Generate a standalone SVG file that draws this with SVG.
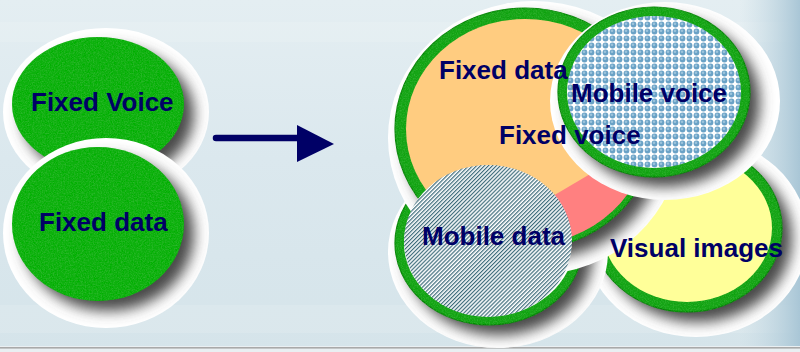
<svg xmlns="http://www.w3.org/2000/svg" width="800" height="352" viewBox="0 0 800 352">
<defs>
<style>
.halo{fill:#ffffff}
.shade{fill:#4a4a4a;filter:url(#soft)}
.green{fill:#10b010;filter:url(#grain)}
.ring{fill:#16a316;stroke:#0b850b;stroke-width:1.2;filter:url(#grain)}
.lbl{font-family:"Liberation Sans",Arial,Helvetica,sans-serif;font-weight:bold;font-size:26px;fill:#000066}
</style>
<linearGradient id="bg" x1="0" y1="0" x2="0" y2="1">
<stop offset="0" stop-color="#e4eef2"/>
<stop offset="0.45" stop-color="#dbe8ee"/>
<stop offset="1" stop-color="#d5e4ea"/>
</linearGradient>
<linearGradient id="edge" x1="0" y1="0" x2="1" y2="0">
<stop offset="0" stop-color="#c4d9e3" stop-opacity="0"/>
<stop offset="1" stop-color="#a9c6d6"/>
</linearGradient>
<filter id="soft" x="-20%" y="-20%" width="140%" height="140%">
<feGaussianBlur stdDeviation="7"/>
</filter>
<filter id="grain" x="-5%" y="-5%" width="110%" height="110%">
<feTurbulence type="fractalNoise" baseFrequency="0.75" numOctaves="2" seed="7" result="noise"/>
<feColorMatrix in="noise" type="matrix" values="0 0 0 0 0.05  0 0 0 0 0.55  0 0 0 0 0.05  0 0 0 1.0 -0.4" result="spk"/>
<feComposite in="spk" in2="SourceGraphic" operator="in" result="spk2"/>
<feMerge><feMergeNode in="SourceGraphic"/><feMergeNode in="spk2"/></feMerge>
</filter>
<pattern id="dots" width="7" height="7" patternUnits="userSpaceOnUse">
<rect width="7" height="7" fill="#ffffff"/>
<circle cx="3.5" cy="3.5" r="2.9" fill="#6aa2c6"/>
<circle cx="3" cy="2.7" r="1.3" fill="#9cc4dc"/>
</pattern>
<pattern id="stripes" width="2.8" height="2.8" patternUnits="userSpaceOnUse" patternTransform="rotate(45)">
<rect width="2.8" height="2.8" fill="#ffffff"/>
<rect width="1.2" height="2.8" fill="#3d6b7a"/>
</pattern>
<clipPath id="c-fv"><ellipse cx="106" cy="112" rx="103" ry="84"/></clipPath>
<clipPath id="c-fd"><ellipse cx="106" cy="233" rx="103" ry="95"/></clipPath>
<clipPath id="c-vi"><ellipse cx="696" cy="237" rx="112" ry="100"/></clipPath>
<clipPath id="c-md"><ellipse cx="498" cy="252" rx="110" ry="96"/></clipPath>
<clipPath id="c-or"><ellipse cx="534" cy="138" rx="146" ry="137"/></clipPath>
<clipPath id="c-mv"><ellipse cx="665" cy="101" rx="115" ry="99"/></clipPath>
<clipPath id="c-pink"><ellipse cx="525" cy="129" rx="124" ry="116"/></clipPath>
</defs>

<g id="background">
<rect width="800" height="352" fill="url(#bg)"/>
<rect x="0" y="22" width="800" height="20" fill="#ffffff" opacity="0.12"/>
<rect x="0" y="305" width="800" height="28" fill="#ffffff" opacity="0.12"/>
<rect x="740" y="0" width="60" height="346" fill="url(#edge)"/>
<rect x="0" y="346" width="800" height="6" fill="#e9eff2"/>
<rect x="0" y="347" width="800" height="1.6" fill="#a9a9a9"/>
</g>

<g id="fixed-voice">
<ellipse class="halo" cx="106" cy="112" rx="103" ry="84"/>
<g clip-path="url(#c-fv)"><ellipse class="shade" cx="108" cy="114" rx="86" ry="67"/></g>
<ellipse class="green" cx="98" cy="104" rx="86" ry="67"/>
<text class="lbl" x="31" y="111">Fixed Voice</text>
</g>

<g id="fixed-data">
<ellipse class="halo" cx="106" cy="233" rx="103" ry="95"/>
<g clip-path="url(#c-fd)"><ellipse class="shade" cx="108" cy="234" rx="86" ry="77"/></g>
<ellipse class="green" cx="98" cy="224" rx="86" ry="77"/>
<text class="lbl" x="39" y="231">Fixed data</text>
</g>

<g id="connectors">
<line x1="216" y1="138" x2="300" y2="138" stroke="#000066" stroke-width="6.5" stroke-linecap="round"/>
<polygon points="297,125 297,162 334,144" fill="#000066"/>
</g>

<g id="visual-images">
<ellipse class="halo" cx="696" cy="237" rx="112" ry="100"/>
<g clip-path="url(#c-vi)"><ellipse class="shade" cx="697" cy="238" rx="95" ry="84"/></g>
<ellipse class="ring" cx="687" cy="228" rx="95" ry="84"/>
<ellipse cx="687" cy="228" rx="85" ry="74" fill="#ffff99"/>
</g>

<g id="mobile-data-ring">
<ellipse class="halo" cx="498" cy="252" rx="110" ry="96"/>
<g clip-path="url(#c-md)"><ellipse class="shade" cx="499" cy="253" rx="94" ry="82"/></g>
<ellipse class="ring" cx="489" cy="243" rx="94" ry="82"/>
<ellipse cx="489" cy="243" rx="85" ry="73" fill="#ffffff"/>
</g>

<g id="fixed-data-voice">
<ellipse class="halo" cx="534" cy="138" rx="146" ry="137"/>
<g clip-path="url(#c-or)"><ellipse class="shade" cx="535" cy="139" rx="130" ry="121"/></g>
<ellipse class="ring" cx="525" cy="129" rx="130" ry="121"/>
<ellipse cx="525" cy="129" rx="119" ry="110" fill="#ffcc80"/>
<polygon clip-path="url(#c-pink)" points="460,251 700,109 700,300 460,300" fill="#ff8080"/>
</g>

<g id="mobile-voice">
<ellipse class="halo" cx="665" cy="101" rx="115" ry="99"/>
<g clip-path="url(#c-mv)"><ellipse class="shade" cx="664" cy="102" rx="96" ry="85"/></g>
<ellipse class="ring" cx="654" cy="92" rx="96" ry="85"/>
<ellipse cx="654" cy="92" rx="87" ry="76" fill="url(#dots)"/>
</g>

<g id="mobile-data">
<ellipse cx="488" cy="241" rx="84" ry="76" fill="url(#stripes)"/>
</g>

<g id="labels">
<text class="lbl" x="439" y="79">Fixed data</text>
<text class="lbl" x="571" y="102">Mobile voice</text>
<text class="lbl" x="499" y="144">Fixed voice</text>
<text class="lbl" x="422" y="245">Mobile data</text>
<text class="lbl" x="610" y="257">Visual images</text>
</g>
</svg>
